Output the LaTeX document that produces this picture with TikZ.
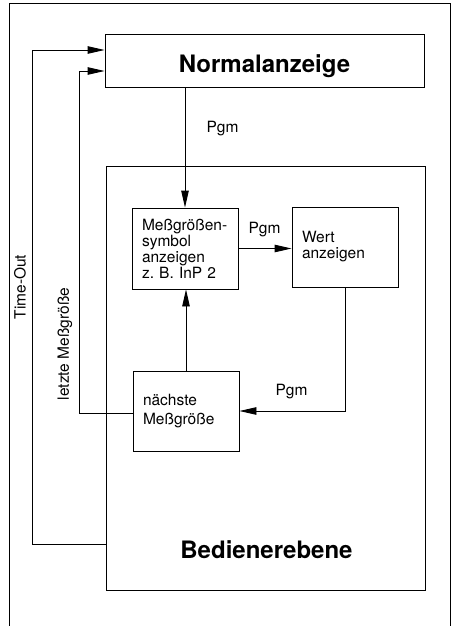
\documentclass[tikz,border=0pt]{standalone}
\usepackage{fontspec}
\setmainfont{TeX Gyre Heros}
\usetikzlibrary{arrows.meta}
\frenchspacing
\begin{document}
\begin{tikzpicture}[x=1pt,y=-1pt,
  line width=0.9pt,
  arr/.style={-{Triangle[length=17pt,width=7.5pt]}},
  txt/.style={font=\fontsize{15.5}{16}\selectfont},
  title/.style={font=\fontsize{24}{28}\selectfont\bfseries},
  smallbox/.style={draw,txt,text width=86pt,inner xsep=10pt,inner ysep=0pt,
    minimum height=81pt,align=left}]
\useasboundingbox (0,0) rectangle (454,626);
% outer frame
\draw (9,626) -- (9,3) -- (450,3) -- (450,626);
% boxes
\node[draw,minimum width=319pt,minimum height=53pt,inner sep=0pt] (norm) at (264.5,60.5) {};
\node[title,anchor=base] (normT) at (264.5,72) {Normalanzeige};
\node[draw,minimum width=319pt,minimum height=424pt,inner sep=0pt] (bed) at (265.5,378) {};
\node[title,anchor=base] (bedT) at (266.5,558) {Bedienerebene};
\node[smallbox] (mess) at (185,248.5) {Meßgrößen-\\symbol\\anzeigen\\z.\ B. InP 2};
\node[smallbox,minimum height=80pt] (wert) at (345,247) {Wert\\anzeigen};
\node[smallbox,minimum height=80pt,font=\fontsize{15.5}{19.5}\selectfont] (next) at (186,411) {nächste\\Meßgröße};
% connectors
\draw[arr] (norm.south -| mess.north) -- (mess.north);
\draw[arr] (mess.east) -- (mess.east -| wert.west);
\draw[arr] (wert.south) |- (next.east);
\draw[arr] (next.north) -- (next.north |- mess.south);
\coordinate (lmB) at (79,413);
\coordinate (lmT) at (79,71);
\draw[arr] (lmB -| next.west) -- (lmB) -- (lmT) -- (lmT -| norm.west);
\coordinate (toB) at (32,544);
\coordinate (toT) at (32,50);
\draw[arr] (toB -| bed.west) -- (toB) -- (toT) -- (toT -| norm.west);
% labels
\node[txt] (p1) at (222.5,129) {Pgm};
\node[txt] (p2) at (264.5,230) {Pgm};
\node[txt] (p3) at (291.5,391.5) {Pgm};
\node[txt,rotate=90] (lTO) at (20,287) {Time-Out};
\node[txt,rotate=90] (lLM) at (65,344) {letzte Meßgröße};
\end{tikzpicture}
\end{document}
